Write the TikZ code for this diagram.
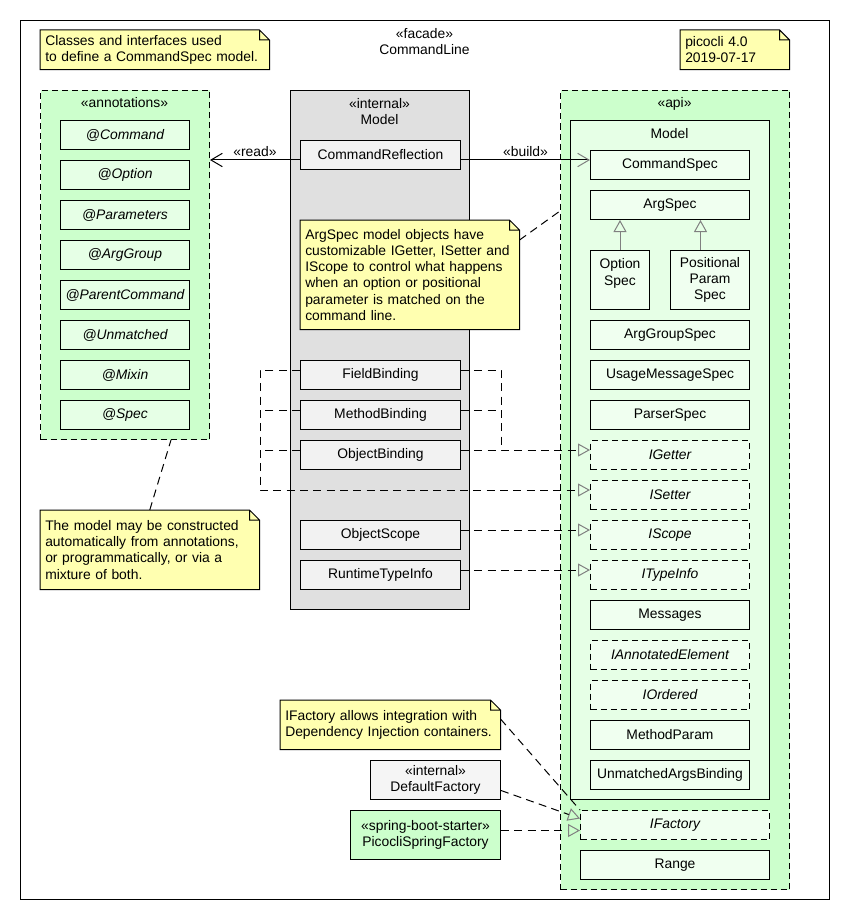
\documentclass[tikz,border=0pt]{standalone}
\usepackage{fontspec}
\setmainfont{Liberation Sans}
\usetikzlibrary{arrows.meta,calc}

\begin{document}
\fontsize{10.4pt}{12.2pt}\selectfont
\begin{tikzpicture}[x=0.75pt,y=0.75pt,yscale=-1,xscale=1,
	pkgtitle/.style={anchor=base, inner sep=0pt, align=center},
	facadeframe/.style={draw, line width=0.75pt, anchor=north west, inner sep=0pt},
	greenpkg/.style={draw, line width=0.75pt, dash pattern={on 4.5pt off 3pt}, fill={rgb, 255:red, 204; green, 255; blue, 204}, anchor=north west, inner sep=0pt},
	graypkg/.style={draw, line width=0.75pt, fill={rgb, 255:red, 224; green, 224; blue, 224}, anchor=north west, inner sep=0pt},
	modelpkg/.style={draw, line width=0.75pt, fill={rgb, 255:red, 230; green, 255; blue, 230}, anchor=north west, inner sep=0pt},
	annbox/.style={draw, line width=0.75pt, fill={rgb, 255:red, 230; green, 255; blue, 230}, font=\itshape, minimum width=96.75pt, minimum height=21.75pt, anchor=north west, inner sep=0pt},
	intbox/.style={draw, line width=0.75pt, fill={rgb, 255:red, 242; green, 242; blue, 242}, minimum width=120pt, minimum height=21.75pt, anchor=north west, inner sep=0pt, align=center},
	apibox/.style={draw, line width=0.75pt, fill={rgb, 255:red, 240; green, 255; blue, 240}, minimum width=119.25pt, minimum height=21.75pt, anchor=north west, inner sep=0pt, align=center},
	ifacebox/.style={apibox, dash pattern={on 4.5pt off 3pt}, font=\itshape},
	note/.style={fill={rgb, 255:red, 255; green, 255; blue, 176}, anchor=north west, align=left, inner xsep=3.75pt, inner ysep=0pt},
	fold/.style={line width=0.75pt},
	dep/.style={line width=0.75pt, dash pattern={on 6pt off 4pt}},
	realize/.style={dep, -{Triangle[open, length=9pt, width=9.75pt, color=gray]}},
	gen/.style={line width=0.75pt, color=gray, -{Triangle[open, length=9pt, width=9.75pt]}},
	uses/.style={line width=0.75pt, -{Straight Barb[length=8.5pt, width=10pt]}}
	]
	\useasboundingbox (0,0) rectangle (850,920);
	
	% Frame
	\node[facadeframe, minimum width=606.75pt, minimum height=659.25pt] (facade) at (20,20) {};
	\node[pkgtitle] (facadetitle) at (424.5,55) {«facade»\\CommandLine};
	
	% Notes on top
	\node[note, text width=164.25pt, minimum height=29.25pt] (readme) at (40,30) {Classes and interfaces used\\to define a CommandSpec model.};
	\fill[white] ($(readme.north east)+(-10,0)$) -- (readme.north east) -- ($(readme.north east)+(0,10)$) -- cycle;
	\draw[fold] (readme.north west) -- ($(readme.north east)+(-10,0)$) -- ($(readme.north east)+(0,10)$) -- (readme.south east) -- (readme.south west) -- cycle ($(readme.north east)+(-10,0)$) |- ($(readme.north east)+(0,10)$);
	\node[note, text width=74.25pt, minimum height=29.25pt] (version) at (680,30) {picocli 4.0\\2019-07-17};
	\fill[white] ($(version.north east)+(-10,0)$) -- (version.north east) -- ($(version.north east)+(0,10)$) -- cycle;
	\draw[fold] (version.north west) -- ($(version.north east)+(-10,0)$) -- ($(version.north east)+(0,10)$) -- (version.south east) -- (version.south west) -- cycle ($(version.north east)+(-10,0)$) |- ($(version.north east)+(0,10)$);
	
	% Package: annotations
	\node[greenpkg, minimum width=126.75pt, minimum height=261.75pt] (annotations) at (40,90) {};
	\node[pkgtitle] (annotationstitle) at (124.5,108) {«annotations»};
	\node[annbox] (command) at (60,120) {@Command};
	\node[annbox] (option) at (60,160) {@Option};
	\node[annbox] (parameters) at (60,200) {@Parameters};
	\node[annbox] (arggroup) at (60,240) {@ArgGroup};
	\node[annbox] (parentcommand) at (60,280) {@ParentCommand};
	\node[annbox] (unmatched) at (60,320) {@Unmatched};
	\node[annbox] (mixin) at (60,360) {@Mixin};
	\node[annbox] (spec) at (60,400) {@Spec};
	
	% Package: internal Model
	\node[graypkg, minimum width=134.25pt, minimum height=389.25pt] (internal) at (290,90) {};
	\node[pkgtitle] (internaltitle) at (379.5,125) {«internal»\\Model};
	\node[intbox] (reflection) at (300,140) {CommandReflection};
	\node[intbox] (fieldbinding) at (300,360) {FieldBinding};
	\node[intbox] (methodbinding) at (300,400) {MethodBinding};
	\node[intbox] (objectbinding) at (300,440) {ObjectBinding};
	\node[intbox] (objectscope) at (300,520) {ObjectScope};
	\node[intbox] (typeinfo) at (300,560) {RuntimeTypeInfo};
	
	% Package: api
	\node[greenpkg, minimum width=171.75pt, minimum height=599.25pt] (api) at (560,90) {};
	\node[pkgtitle] (apititle) at (674.5,108) {«api»};
	\node[modelpkg, minimum width=149.25pt, minimum height=509.25pt] (apimodel) at (570,120) {};
	\node[pkgtitle] (apimodeltitle) at (669.5,138) {Model};
	\node[apibox] (commandspec) at (590,150) {CommandSpec};
	\node[apibox] (argspec) at (590,190) {ArgSpec};
	\node[apibox, minimum width=44.25pt, minimum height=44.25pt] (optionspec) at (590,250) {Option\\Spec\\\mbox{}};
	\node[apibox, minimum width=59.25pt, minimum height=44.25pt] (positionalspec) at (670,250) {Positional\\Param\\Spec};
	\node[apibox] (arggroupspec) at (590,320) {ArgGroupSpec};
	\node[apibox] (usagespec) at (590,360) {UsageMessageSpec};
	\node[apibox] (parserspec) at (590,400) {ParserSpec};
	\node[ifacebox] (igetter) at (590,440) {IGetter};
	\node[ifacebox] (isetter) at (590,480) {ISetter};
	\node[ifacebox] (iscope) at (590,520) {IScope};
	\node[ifacebox] (itypeinfo) at (590,560) {ITypeInfo};
	\node[apibox] (messages) at (590,600) {Messages};
	\node[ifacebox] (iannotated) at (590,640) {IAnnotatedElement};
	\node[ifacebox] (iordered) at (590,680) {IOrdered};
	\node[apibox] (methodparam) at (590,720) {MethodParam};
	\node[apibox] (unmatchedbinding) at (590,760) {UnmatchedArgsBinding};
	\node[ifacebox, minimum width=141.75pt] (ifactory) at (580,810) {IFactory};
	\node[apibox, minimum width=141.75pt] (range) at (580,850) {Range};
	
	% Generalizations
	\coordinate (posgen) at ($(positionalspec.north)+(-9.5,0)$);
	\draw[gen] (optionspec.north) -- (optionspec.north |- argspec.south);
	\draw[gen] (posgen) -- (posgen |- argspec.south);
	
	% read / build
	\coordinate (readlevel) at (0,160);
	\draw[uses] (reflection.west |- readlevel) -- (annotations.east |- readlevel) node[midway, above, inner sep=2pt] (readlabel) {«read»};
	\draw[uses, -{Straight Barb[length=8.5pt, width=10pt, color=gray]}] (reflection.east |- readlevel) -- (commandspec.west |- readlevel) node[midway, above, inner sep=2pt] (buildlabel) {«build»};
	
	% Bindings
	\draw[realize] ($(fieldbinding.north west)+(0,10)$) -- ++(-40,0) |- ($(isetter.north west)+(0,10)$);
	\draw[dep] ($(methodbinding.north west)+(0,10)$) -- ++(-40,0);
	\draw[dep] ($(objectbinding.north west)+(0,10)$) -- ++(-40,0);
	\draw[realize] ($(fieldbinding.north east)+(0,10)$) -- ++(40,0) |- ($(igetter.north west)+(0,10)$);
	\draw[dep] ($(methodbinding.north east)+(0,10)$) -- ++(40,0);
	\draw[dep] ($(objectbinding.north east)+(0,10)$) -- ++(40,0);
	\draw[realize] ($(objectscope.north east)+(0,10)$) -- ($(iscope.north west)+(0,10)$);
	\draw[realize] ($(typeinfo.north east)+(0,10)$) -- ($(itypeinfo.north west)+(0,10)$);
	
	% Note on ArgSpec
	\node[note, text width=156.75pt, minimum height=81.75pt] (argnote) at (300,220) {ArgSpec model objects have\\customizable IGetter, ISetter and\\IScope to control what happens\\when an option or positional\\parameter is matched on the\\command line.};
	\fill[white] ($(argnote.north east)+(-10,0)$) -- (argnote.north east) -- ($(argnote.north east)+(0,10)$) -- cycle;
	\draw[fold] (argnote.north west) -- ($(argnote.north east)+(-10,0)$) -- ($(argnote.north east)+(0,10)$) -- (argnote.south east) -- (argnote.south west) -- cycle ($(argnote.north east)+(-10,0)$) |- ($(argnote.north east)+(0,10)$);
	\draw[dep] ($(argnote.north east)+(0,20)$) -- ($(api.north west)+(0,121)$);
	
	% Note on the model
	\node[note, text width=156.75pt, minimum height=59.25pt] (modelnote) at (40,510) {The model may be constructed\\automatically from annotations,\\or programmatically, or via a\\mixture of both.};
	\fill[white] ($(modelnote.north east)+(-10,0)$) -- (modelnote.north east) -- ($(modelnote.north east)+(0,10)$) -- cycle;
	\draw[fold] (modelnote.north west) -- ($(modelnote.north east)+(-10,0)$) -- ($(modelnote.north east)+(0,10)$) -- (modelnote.south east) -- (modelnote.south west) -- cycle ($(modelnote.north east)+(-10,0)$) |- ($(modelnote.north east)+(0,10)$);
	\draw[dep] (modelnote.north) -- ($(annotations.south)+(46,0)$);
	
	% Factories
	\node[note, text width=157.5pt, minimum height=36.75pt] (factorynote) at (280,700) {IFactory allows integration with\\Dependency Injection containers.};
	\fill[white] ($(factorynote.north east)+(-10,0)$) -- (factorynote.north east) -- ($(factorynote.north east)+(0,10)$) -- cycle;
	\draw[fold] (factorynote.north west) -- ($(factorynote.north east)+(-10,0)$) -- ($(factorynote.north east)+(0,10)$) -- (factorynote.south east) -- (factorynote.south west) -- cycle ($(factorynote.north east)+(-10,0)$) |- ($(factorynote.north east)+(0,10)$);
	\node[intbox, fill={rgb, 255:red, 245; green, 245; blue, 245}, minimum width=97.5pt, minimum height=29.25pt] (defaultfactory) at (370,760) {«internal»\\DefaultFactory};
	\node[intbox, fill={rgb, 255:red, 204; green, 255; blue, 204}, minimum width=112.5pt, minimum height=36.75pt] (springfactory) at (350,810) {«spring-boot-starter»\\PicocliSpringFactory};
	\draw[dep] ($(factorynote.north east)+(0,19)$) -- (ifactory.north west);
	\draw[realize] ($(defaultfactory.east)+(0,10.5)$) -- ($(ifactory.west)+(0,-6.5)$);
	\draw[realize] ($(springfactory.east)+(0,-4.5)$) -- ($(ifactory.west)+(0,5.5)$);
	
\end{tikzpicture}
\end{document}
